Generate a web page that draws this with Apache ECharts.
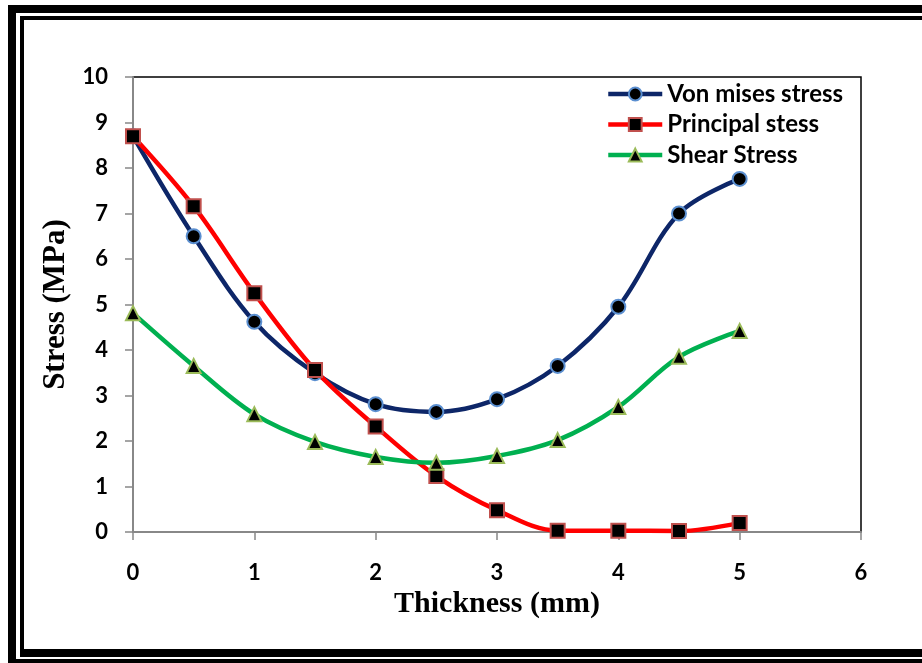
<!DOCTYPE html>
<html>
<head>
<meta charset="utf-8">
<script src="https://cdn.jsdelivr.net/npm/echarts@6/dist/echarts.min.js"></script>
<style>
html,body{margin:0;padding:0;background:#fff;}
#chart{width:922px;height:663px;}
</style>
</head>
<body>
<div id="chart"></div>
<script>
const thickness = [0, 0.5, 1, 1.5, 2, 2.5, 3, 3.5, 4, 4.5, 5];
const vonMises = [8.7, 6.5, 4.62, 3.49, 2.81, 2.64, 2.92, 3.65, 4.95, 7.0, 7.76];
const principal = [8.7, 7.16, 5.25, 3.56, 2.32, 1.23, 0.48, 0.03, 0.03, 0.02, 0.2];
const shear = [4.81, 3.65, 2.59, 1.98, 1.65, 1.52, 1.67, 2.02, 2.75, 3.85, 4.42];
const seriesNames = ['Von mises stress', 'Principal stess', 'Shear Stress'];
const xTicks = [0, 1, 2, 3, 4, 5, 6];
const yTicks = [0, 1, 2, 3, 4, 5, 6, 7, 8, 9, 10];

const pairs = arr => thickness.map((t, i) => [t, arr[i]]);

const chart = echarts.init(document.getElementById('chart'), null, {renderer: 'canvas'});
const labelFont = {fontFamily: 'Lato, "Open Sans", sans-serif', fontWeight: 'bold', fontSize: 22, color: '#000'};

function lineSeries(name, data, color, symbol, borderColor, size) {
  return {
    name: name, type: 'line', data: data, smooth: 0.35,
    symbol: symbol, symbolSize: size,
    lineStyle: {color: color, width: 4.5},
    itemStyle: {color: '#000', borderColor: borderColor, borderWidth: 2},
    emphasis: {disabled: true},
    z: 3
  };
}

chart.setOption({
  animation: false,
  backgroundColor: '#fff',
  grid: {left: 133, right: 61, top: 77, bottom: 131, show: true, borderColor: '#000', borderWidth: 1.5, backgroundColor: 'transparent'},
  xAxis: {
    type: 'value', min: xTicks[0], max: xTicks[xTicks.length - 1], interval: 1,
    name: 'Thickness (mm)', nameLocation: 'middle', nameGap: 52,
    nameTextStyle: {fontFamily: '"Liberation Serif", "DejaVu Serif", serif', fontWeight: 'bold', fontSize: 30, color: '#000'},
    axisLine: {show: true, lineStyle: {color: '#888', width: 2}},
    axisTick: {show: true, inside: false, length: 8, lineStyle: {color: '#888', width: 1.5}},
    axisLabel: Object.assign({margin: 30}, labelFont),
    splitLine: {show: false}
  },
  yAxis: {
    type: 'value', min: yTicks[0], max: yTicks[yTicks.length - 1], interval: 1,
    name: 'Stress (MPa)', nameLocation: 'middle', nameGap: 53, nameRotate: 90,
    nameTextStyle: {fontFamily: '"Liberation Serif", "DejaVu Serif", serif', fontWeight: 'bold', fontSize: 31, color: '#000'},
    axisLine: {show: true, lineStyle: {color: '#888', width: 2}},
    axisTick: {show: true, inside: false, length: 8, lineStyle: {color: '#888', width: 1.5}},
    axisLabel: Object.assign({margin: 25}, labelFont),
    splitLine: {show: false}
  },
  legend: {
    orient: 'vertical', left: 606, top: 82, padding: 0,
    itemWidth: 54, itemHeight: 16, itemGap: 6.5,
    lineStyle: {width: 4.5},
    textStyle: {fontFamily: 'Lato, "Open Sans", sans-serif', fontWeight: 'bold', fontSize: 24, color: '#000'},
    data: seriesNames
  },
  series: [
    lineSeries(seriesNames[0], pairs(vonMises), '#0d2668', 'circle', '#5b8fd0', 14),
    lineSeries(seriesNames[1], pairs(principal), '#ff0000', 'rect', '#c0504d', 14),
    lineSeries(seriesNames[2], pairs(shear), '#00b050', 'triangle', '#9bbb59', 14)
  ],
  graphic: [
    {type: 'rect', shape: {x: 8, y: 5, width: 914, height: 8}, style: {fill: '#000'}, silent: true},
    {type: 'rect', shape: {x: 8, y: 5, width: 8, height: 658}, style: {fill: '#000'}, silent: true},
    {type: 'rect', shape: {x: 20, y: 16, width: 902, height: 4}, style: {fill: '#000'}, silent: true},
    {type: 'rect', shape: {x: 20, y: 16, width: 4, height: 641}, style: {fill: '#000'}, silent: true},
    {type: 'rect', shape: {x: 20, y: 649, width: 902, height: 8}, style: {fill: '#000'}, silent: true},
    {type: 'rect', shape: {x: 8, y: 659, width: 914, height: 4}, style: {fill: '#000'}, silent: true}
  ]
});
</script>
</body>
</html>
